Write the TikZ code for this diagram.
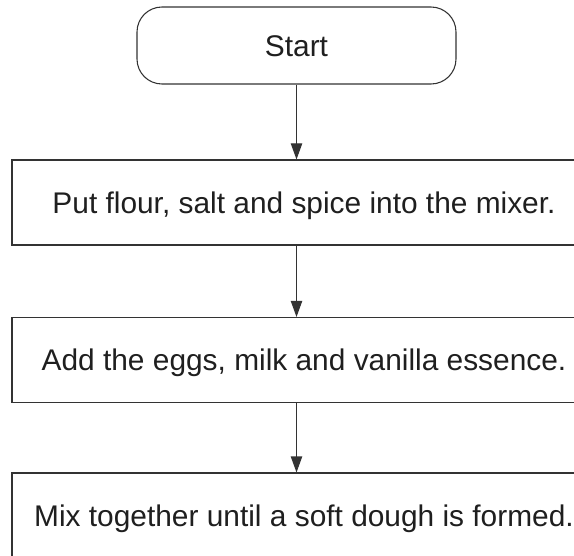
\documentclass[tikz,border=0pt]{standalone}
\usepackage{fontspec}
\setmainfont{Liberation Sans}
\usetikzlibrary{arrows.meta}
\usetikzlibrary{positioning}

\begin{document}
\begin{tikzpicture}[x=0.75pt,y=-0.75pt,
stepbox/.style={draw=black!80, line width=0.8pt, minimum width=438pt, minimum height=63.75pt, inner sep=0pt, text height=16pt, text depth=0pt, text=black!88, font=\fontsize{22.4}{27}\selectfont},
startbox/.style={stepbox, rounded corners=18.75pt, minimum width=239.25pt, minimum height=57.75pt},
flow/.style={draw=black!80, line width=0.8pt, -{Triangle[length=12pt,width=8.5pt]}}]
\useasboundingbox (0,0) rectangle (574,556);
\clip (0,0) rectangle (574,556);
\node (start) at (296.5,45.5) [startbox] {Start};
\node (flour) at (304,202.5) [stepbox] {Put flour, salt and spice into the mixer.};
\node (eggs) at (304,360) [stepbox] {Add the eggs, milk and vanilla essence.};
\node (mix) at (304,515.5) [stepbox] {Mix together until a soft dough is formed.};
\draw[flow] (start.south) -- (start.south |- flour.north);
\draw[flow] (flour.south -| start) -- (eggs.north -| start);
\draw[flow] (eggs.south -| start) -- (mix.north -| start);
\end{tikzpicture}
\end{document}
